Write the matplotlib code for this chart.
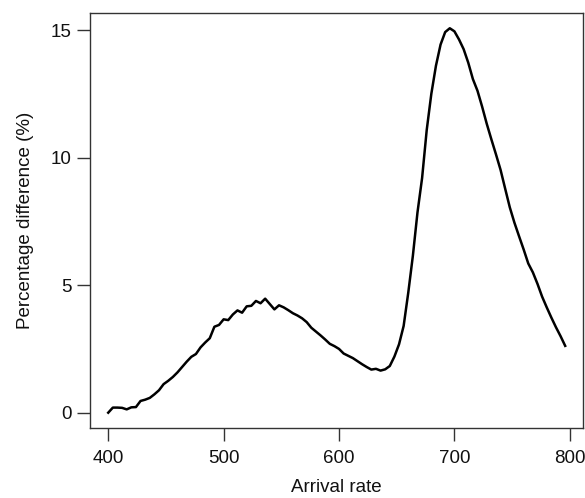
import matplotlib
matplotlib.use("Agg")
import matplotlib.pyplot as plt

arrival_rate = [400, 404, 408, 412, 416, 420, 424, 428, 432, 436, 440, 444, 448, 452, 456, 460,
                464, 468, 472, 476, 480, 484, 488, 492, 496, 500, 504, 508, 512, 516, 520, 524,
                528, 532, 536, 540, 544, 548, 552, 556, 560, 564, 568, 572, 576, 580, 584, 588,
                592, 596, 600, 604, 608, 612, 616, 620, 624, 628, 632, 636, 640, 644, 648, 652,
                656, 660, 664, 668, 672, 676, 680, 684, 688, 692, 696, 700, 704, 708, 712, 716,
                720, 724, 728, 732, 736, 740, 744, 748, 752, 756, 760, 764, 768, 772, 776, 780,
                784, 788, 792, 796]
pct_diff = [0.00, 0.20, 0.20, 0.19, 0.13, 0.21, 0.22, 0.46, 0.51, 0.58, 0.72, 0.88, 1.12, 1.25, 1.40, 1.58,
            1.79, 2.00, 2.19, 2.30, 2.56, 2.75, 2.92, 3.37, 3.44, 3.66, 3.63, 3.85, 4.01, 3.92, 4.17, 4.19,
            4.38, 4.29, 4.47, 4.26, 4.05, 4.21, 4.13, 4.02, 3.90, 3.81, 3.70, 3.55, 3.33, 3.18, 3.03, 2.87,
            2.70, 2.61, 2.50, 2.32, 2.23, 2.14, 2.02, 1.90, 1.79, 1.69, 1.72, 1.65, 1.70, 1.83, 2.20, 2.68,
            3.40, 4.70, 6.15, 7.85, 9.20, 11.08, 12.50, 13.60, 14.43, 14.92, 15.07, 14.95, 14.63, 14.25, 13.72, 13.08,
            12.62, 12.00, 11.33, 10.72, 10.13, 9.52, 8.78, 8.05, 7.45, 6.92, 6.40, 5.85, 5.50, 5.05, 4.55, 4.13,
            3.73, 3.35, 3.00, 2.62]
x_ticks = [400, 500, 600, 700, 800]
y_ticks = [0, 5, 10, 15]

plt.rcParams['font.family'] = ['Liberation Sans', 'DejaVu Sans']

W, H = 585, 498
fig = plt.figure(figsize=(W / 100, H / 100), dpi=100)
ax = fig.add_axes([90 / W, 1 - 428 / H, (583.3 - 90) / W, (428 - 12.7) / H])

ax.plot(arrival_rate, pct_diff, color='black', lw=1.8)

ax.set_xlim(384.2, 811.7)
ax.set_ylim(-0.6, 15.68)
ax.set_xticks(x_ticks)
ax.set_yticks(y_ticks)
ax.set_xticklabels([str(v) for v in x_ticks])
ax.set_yticklabels([str(v) for v in y_ticks])

for s in ax.spines.values():
    s.set_color('#333333')
    s.set_linewidth(1.0)
ax.tick_params(axis='both', length=9.5, width=1.0, color='#333333', labelsize=13.5, labelcolor='#111111')
ax.tick_params(axis='x', pad=6)
ax.tick_params(axis='y', pad=4)

ax.set_xlabel('Arrival rate', fontsize=13.5, labelpad=9, color='#111111')
ax.set_ylabel('Percentage difference (%)', fontsize=13.5, labelpad=11.5, color='#111111')

fig.savefig('out.png', dpi=100)
